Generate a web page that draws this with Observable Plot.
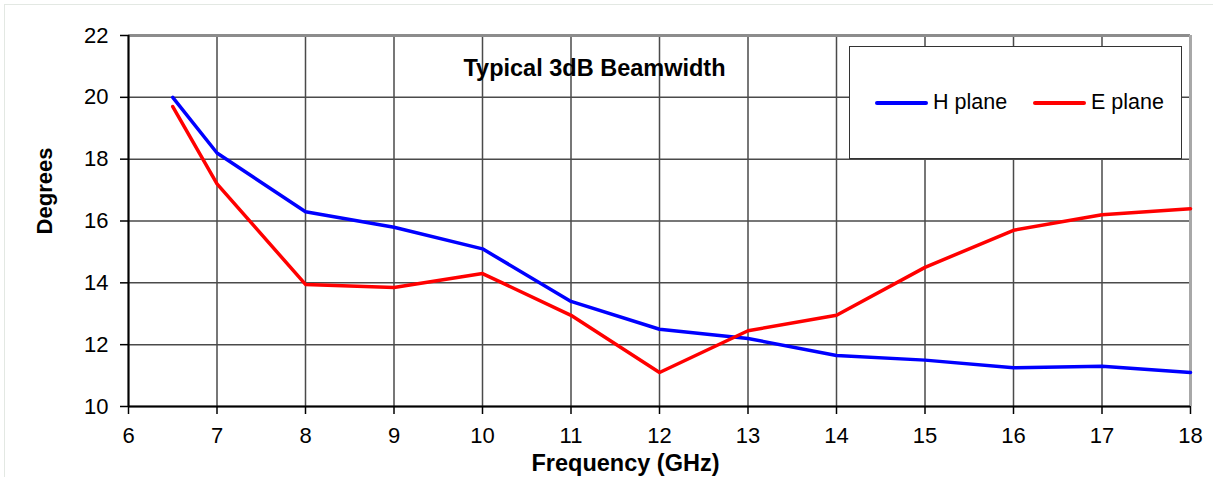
<!DOCTYPE html>
<html>
<head>
<meta charset="utf-8">
<script src="https://cdn.jsdelivr.net/npm/d3@7"></script>
<script src="https://cdn.jsdelivr.net/npm/@observablehq/plot@0.6"></script>
<style>
  html, body { margin: 0; padding: 0; background: #fff; }
  #wrap { position: relative; width: 1213px; height: 477px; overflow: hidden; font-family: "Liberation Sans", Arial, sans-serif; }
  #frame { position: absolute; left: 4px; top: 4px; width: 1215px; height: 480px; border: 1px solid #e3e8e3; box-sizing: border-box; pointer-events: none; }
  #legend { position: absolute; left: 849px; top: 46px; width: 333px; height: 113px; border: 1px solid #333; background: #fff; box-sizing: border-box; }
  .item { position: absolute; top: 43px; display: flex; align-items: center; font-size: 21.5px; color: #000; }
  .swatch { width: 53px; height: 4px; border-radius: 2px; margin-right: 5px; }
</style>
</head>
<body>
<div id="wrap">
  <div id="chart"></div>
  <div id="frame"></div>
  <div id="legend"></div>
</div>
<script>
const freqs  = [6.5, 7, 8, 9, 10, 11, 12, 13, 14, 15, 16, 17, 18];
const hPlane = [20.0, 18.2, 16.3, 15.8, 15.1, 13.4, 12.5, 12.2, 11.65, 11.5, 11.25, 11.3, 11.1];
const ePlane = [19.7, 17.2, 13.95, 13.85, 14.3, 12.95, 11.1, 12.45, 12.95, 14.5, 15.7, 16.2, 16.4];
const seriesNames = ["H plane", "E plane"];
const seriesColors = ["#0000ff", "#ff0000"];
const xTicks = [6, 7, 8, 9, 10, 11, 12, 13, 14, 15, 16, 17, 18];
const yTicks = [10, 12, 14, 16, 18, 20, 22];
const titleText = "Typical 3dB Beamwidth";
const xLabel = "Frequency (GHz)";
const yLabel = "Degrees";

const rows = [];
freqs.forEach((f, i) => {
  rows.push({series: seriesNames[0], freq: f, deg: hPlane[i]});
  rows.push({series: seriesNames[1], freq: f, deg: ePlane[i]});
});

const font = "'Liberation Sans', Arial, sans-serif";
const chart = Plot.plot({
  width: 1213,
  height: 477,
  marginLeft: 128,
  marginRight: 23,
  marginTop: 35,
  marginBottom: 71,
  style: {fontFamily: font, fontSize: "22px", color: "#000", background: "transparent", overflow: "visible"},
  x: {domain: [6, 18], ticks: xTicks},
  y: {domain: [10, 22], ticks: yTicks},
  color: {domain: seriesNames, range: seriesColors},
  marks: [
    Plot.gridX(xTicks, {stroke: "#4a4a4a", strokeOpacity: 1, strokeWidth: 1.5}),
    Plot.gridY(yTicks, {stroke: "#4a4a4a", strokeOpacity: 1, strokeWidth: 1.5}),
    Plot.ruleY([d3.max(yTicks)], {stroke: "#8c8c8c", strokeWidth: 3}),
    Plot.ruleX([d3.max(xTicks)], {stroke: "#a8a8a8", strokeWidth: 3}),
    Plot.axisX({ticks: xTicks, tickSize: 8, tickPadding: 13, label: null, stroke: "#000", strokeWidth: 1.5, fontSize: 22}),
    Plot.axisY({ticks: yTicks, tickSize: 8, tickPadding: 12, label: null, stroke: "#000", strokeWidth: 1.5, fontSize: 22}),
    Plot.ruleX([d3.min(xTicks)], {stroke: "#000", strokeWidth: 2}),
    Plot.ruleY([d3.min(yTicks)], {stroke: "#000", strokeWidth: 2}),
    Plot.line(rows, {x: "freq", y: "deg", z: "series", stroke: "series", strokeWidth: 3.5, strokeLinejoin: "round"}),
    Plot.text([titleText], {frameAnchor: "top", dx: -65, dy: 33, fontWeight: "bold", fontSize: 23.5, textAnchor: "middle", lineAnchor: "middle", fill: "#000"}),
    Plot.text([xLabel], {frameAnchor: "bottom", dx: -34, dy: 57, fontWeight: "bold", fontSize: 23.5, textAnchor: "middle", lineAnchor: "middle", fill: "#000"}),
    Plot.text([yLabel], {frameAnchor: "left", dx: -84, dy: -30, rotate: -90, fontWeight: "bold", fontSize: 22, textAnchor: "middle", lineAnchor: "middle", fill: "#000"})
  ]
});
document.getElementById("chart").appendChild(chart);

const legend = document.getElementById("legend");
const lefts = [25, 183];
seriesNames.forEach((name, i) => {
  const item = document.createElement("div");
  item.className = "item";
  item.style.left = lefts[i] + "px";
  const sw = document.createElement("div");
  sw.className = "swatch";
  sw.style.background = seriesColors[i];
  const lab = document.createElement("span");
  lab.textContent = name;
  item.appendChild(sw);
  item.appendChild(lab);
  legend.appendChild(item);
});
</script>
</body>
</html>
